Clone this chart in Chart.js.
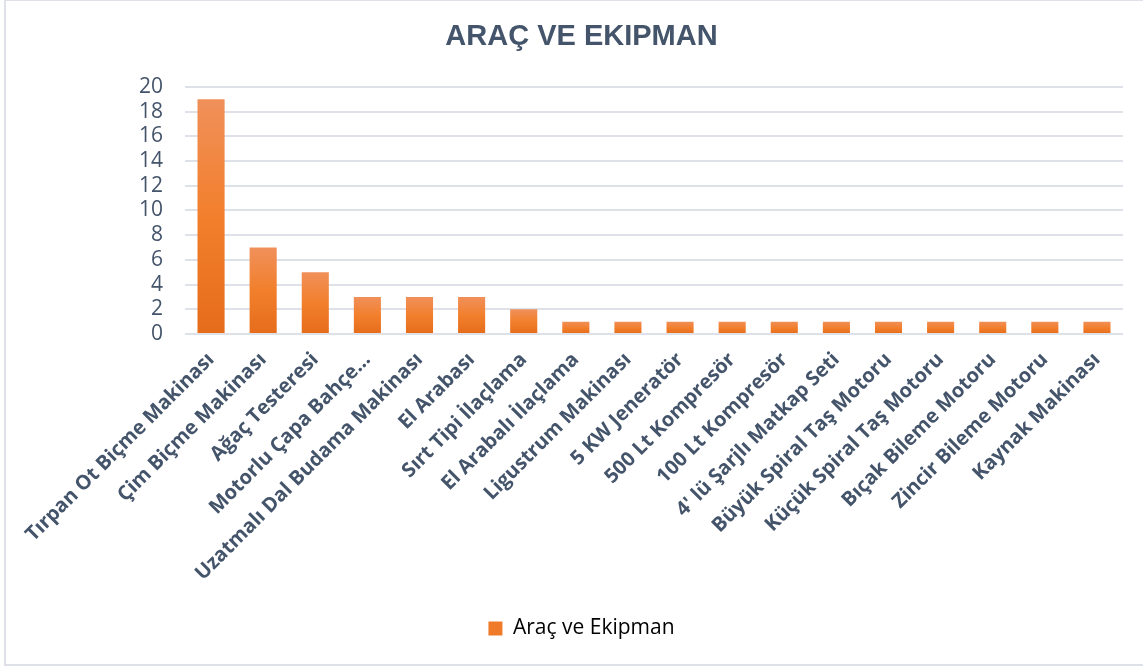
<!DOCTYPE html>
<html lang="tr">
<head>
    <meta charset="UTF-8">
    <title>Araç ve Ekipman</title>
    <script src="https://cdn.jsdelivr.net/npm/chart.js"></script>
    <style>
        body { margin: 0; background: #fff; overflow: hidden; }
        #wrap { position: absolute; left: 0; top: 0; width: 1143px; height: 669px; }
        #frame { position: absolute; left: 4px; top: 0; width: 1160px; height: 666px;
                 border-left: 2px solid #DEE2E8; border-top: 1px solid #DEE2E8; border-bottom: 2px solid #DEE2E8; box-sizing: border-box; }
        canvas { position: absolute; left: 0; top: 0; }
    </style>
</head>
<body>
<div id="wrap">
    <div id="frame"></div>
    <canvas id="chart" width="1143" height="669"></canvas>
</div>
<script>
    const categories = [
        "Tırpan Ot Biçme Makinası", "Çim Biçme Makinası", "Ağaç Testeresi", "Motorlu Çapa Bahçe…",
        "Uzatmalı Dal Budama Makinası", "El Arabası", "Sırt Tipi İlaçlama", "El Arabalı İlaçlama",
        "Ligustrum Makinası", "5 KW Jeneratör", "500 Lt Kompresör", "100 Lt Kompresör",
        "4' lü Şarjlı Matkap Seti", "Büyük Spiral Taş Motoru", "Küçük Spiral Taş Motoru",
        "Bıçak Bileme Motoru", "Zincir Bileme Motoru", "Kaynak Makinası"
    ];
    const values = [19, 7, 5, 3, 3, 3, 2, 1, 1, 1, 1, 1, 1, 1, 1, 1, 1, 1];
    const seriesName = "Araç ve Ekipman";
    const yTicks = { min: 0, max: 20, step: 2 };

    const textColor = '#44546A';

    // each bar gets its own vertical gradient, light at the top
    function barFill(ctx) {
        const chart = ctx.chart;
        const y = chart.scales && chart.scales.y;
        if (!chart.chartArea || !y || ctx.type !== 'data') return '#F07F2A';
        const top = y.getPixelForValue(ctx.raw);
        const bottom = y.getPixelForValue(0);
        const g = chart.ctx.createLinearGradient(0, top, 0, bottom);
        g.addColorStop(0, '#F0905A');
        g.addColorStop(0.5, '#F27F2C');
        g.addColorStop(1, '#E56C1B');
        return g;
    }

    new Chart(document.getElementById('chart'), {
        type: 'bar',
        data: {
            labels: categories,
            datasets: [{
                label: seriesName,
                data: values,
                backgroundColor: barFill,
                borderWidth: 0,
                barPercentage: 0.52,
                categoryPercentage: 1
            }]
        },
        options: {
            responsive: false,
            animation: false,
            layout: { padding: { left: 20, right: 0, top: 16, bottom: 20 } },
            plugins: {
                title: {
                    display: true,
                    text: 'ARAÇ VE EKIPMAN',
                    color: textColor,
                    font: { family: 'Arial, "Liberation Sans"', size: 29, weight: 'bold' },
                    padding: { top: 4, bottom: 32 }
                },
                legend: {
                    position: 'bottom',
                    labels: {
                        color: textColor,
                        font: { family: '"Open Sans"', size: 21 },
                        boxWidth: 14,
                        boxHeight: 14,
                        padding: 8,
                        generateLabels: (chart) => [{
                            text: seriesName,
                            fillStyle: '#EF7B2A',
                            strokeStyle: '#EF7B2A',
                            lineWidth: 0,
                            datasetIndex: 0
                        }]
                    }
                },
                tooltip: { enabled: false }
            },
            scales: {
                x: {
                    grid: { display: false },
                    border: { display: false },
                    ticks: {
                        color: textColor,
                        font: { family: '"Open Sans"', size: 20, weight: 'bold' },
                        minRotation: 45,
                        maxRotation: 45,
                        autoSkip: false,
                        padding: 6
                    },
                    afterFit: (scale) => {
                        scale.height = 276;
                        scale.paddingLeft = 0;
                        scale.paddingRight = 20;
                    }
                },
                y: {
                    min: yTicks.min,
                    max: yTicks.max,
                    grid: { color: '#DEE2E8', lineWidth: 2, drawTicks: false },
                    border: { display: false },
                    ticks: {
                        stepSize: yTicks.step,
                        autoSkip: false,
                        color: textColor,
                        font: { family: '"Open Sans"', size: 21 },
                        padding: 22
                    },
                    afterFit: (scale) => { scale.width = 165; }
                }
            }
        }
    });
</script>
</body>
</html>
